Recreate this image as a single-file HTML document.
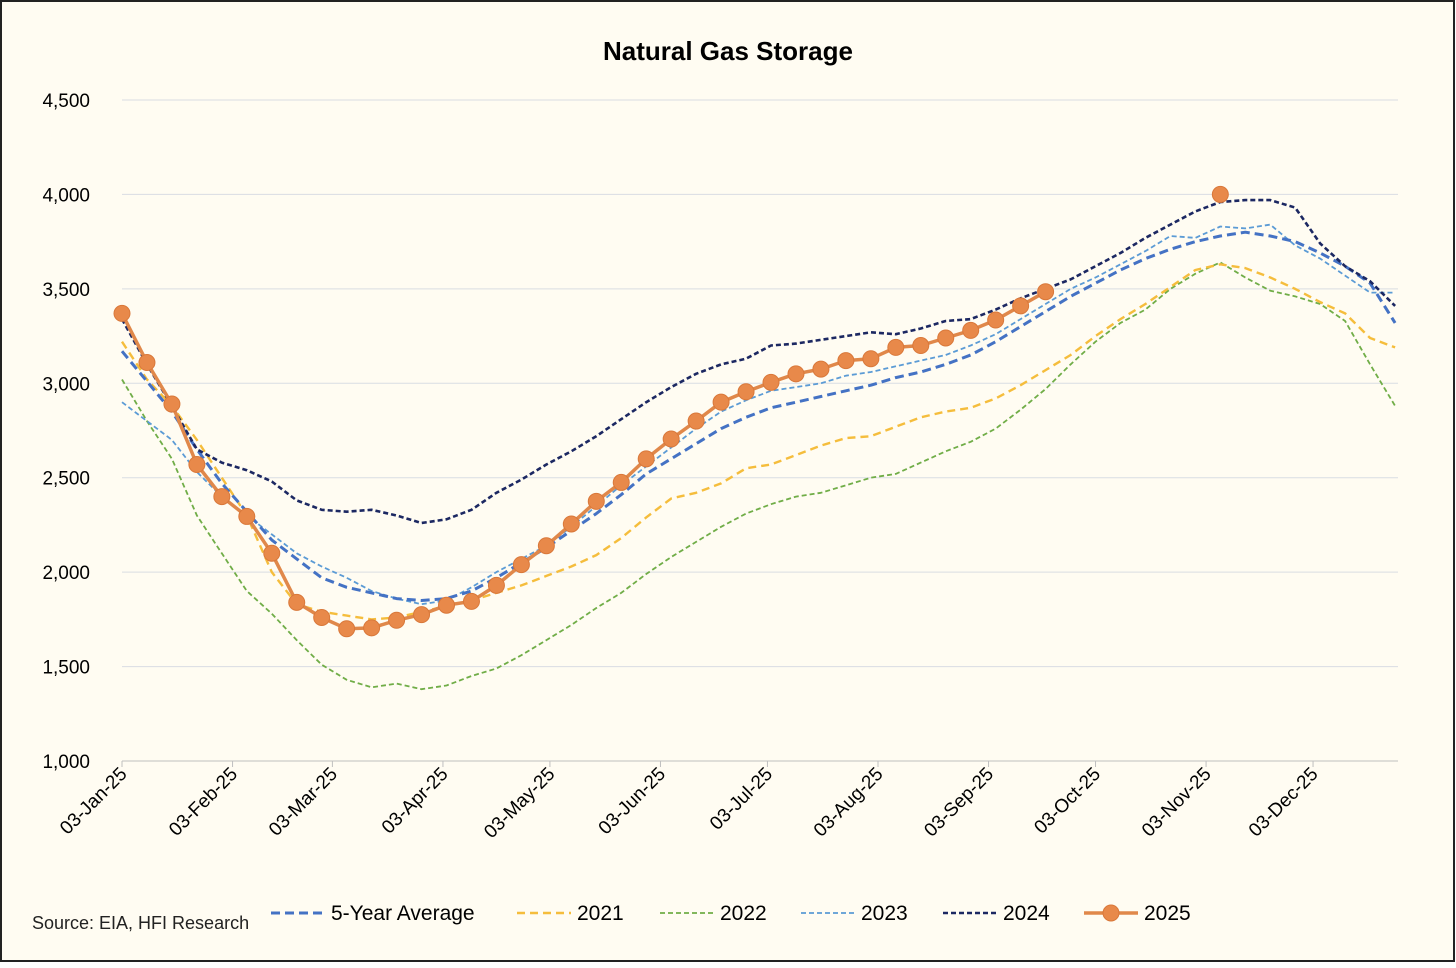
<!DOCTYPE html>
<html><head><meta charset="utf-8">
<style>
body{margin:0;background:#fff;}
#wrap{width:1456px;height:963px;position:relative;}
svg text{font-family:"Liberation Sans",sans-serif;}
</style></head>
<body>
<div id="wrap">
<svg id="chart" width="1456" height="963" viewBox="0 0 1456 963">
<rect x="1" y="1" width="1453" height="960" fill="#fffcf2" stroke="#222" stroke-width="2"/>
<text x="728" y="60" text-anchor="middle" font-size="26" font-weight="bold" fill="#000">Natural Gas Storage</text>
<g id="grid"></g>
<g id="yticks"></g>
<g id="xticks"></g>
<g id="series"></g>
<text x="32" y="929" font-size="18" fill="#222">Source: EIA, HFI Research</text>
<g id="legend"></g>
</svg>
</div>
<script>
const yTicks=[1000,1500,2000,2500,3000,3500,4000,4500];
const xLabels=["03-Jan-25","03-Feb-25","03-Mar-25","03-Apr-25","03-May-25","03-Jun-25","03-Jul-25","03-Aug-25","03-Sep-25","03-Oct-25","03-Nov-25","03-Dec-25"];
const xLabelDays=[0,31,59,90,120,151,181,212,243,273,304,334];
const avg5=[3170,3010,2850,2650,2470,2320,2170,2070,1970,1920,1890,1860,1850,1860,1900,1970,2050,2130,2220,2310,2410,2520,2600,2680,2760,2820,2870,2900,2930,2960,2990,3030,3060,3100,3150,3220,3300,3380,3460,3530,3600,3660,3710,3750,3780,3800,3780,3750,3690,3620,3530,3320];
const y2021=[3220,3020,2880,2700,2500,2300,2000,1830,1790,1770,1750,1760,1790,1820,1850,1890,1930,1980,2030,2090,2180,2290,2390,2420,2470,2550,2570,2620,2670,2710,2720,2770,2820,2850,2870,2920,2990,3070,3150,3250,3340,3420,3510,3600,3630,3610,3560,3500,3430,3370,3240,3190];
const y2022=[3020,2800,2600,2300,2100,1900,1780,1640,1510,1430,1390,1410,1380,1400,1450,1490,1560,1640,1720,1810,1890,1990,2080,2160,2240,2310,2360,2400,2420,2460,2500,2520,2580,2640,2690,2760,2860,2970,3100,3220,3320,3390,3500,3580,3640,3560,3490,3460,3420,3330,3100,2880];
const y2023=[2900,2800,2700,2530,2400,2300,2200,2100,2030,1970,1900,1860,1830,1850,1920,2000,2070,2140,2240,2350,2460,2560,2660,2760,2850,2910,2960,2980,3000,3040,3060,3090,3120,3150,3200,3260,3340,3420,3500,3560,3630,3700,3780,3770,3830,3820,3840,3730,3660,3570,3480,3480];
const y2024=[3340,3100,2880,2650,2580,2540,2480,2380,2330,2320,2330,2300,2260,2280,2330,2420,2490,2570,2640,2720,2810,2900,2980,3050,3100,3130,3200,3210,3230,3250,3270,3260,3290,3330,3340,3390,3450,3500,3550,3620,3690,3770,3840,3910,3960,3970,3970,3930,3740,3620,3540,3410];
const y2025=[3370,3110,2890,2570,2400,2295,2100,1840,1760,1700,1705,1745,1775,1825,1845,1930,2040,2140,2255,2375,2475,2600,2705,2800,2900,2955,3005,3050,3075,3120,3130,3190,3200,3240,3280,3335,3410,3485];
const y2025ProjWeek=[44];
const y2025ProjVal=[4000];

const NS="http://www.w3.org/2000/svg";
const X0=122,PXDAY=3.566,Y0=761,Y1=100,VMIN=1000,VMAX=4500,XEND=1398;
function xDay(d){return X0+d*PXDAY;}
function xWeek(i){return xDay(i*7);}
function yVal(v){return Y0-(v-VMIN)/(VMAX-VMIN)*(Y0-Y1);}
function mk(tag,attrs,parent){const e=document.createElementNS(NS,tag);for(const k in attrs)e.setAttribute(k,attrs[k]);parent.appendChild(e);return e;}
const grid=document.getElementById('grid'),yt=document.getElementById('yticks'),xt=document.getElementById('xticks'),ser=document.getElementById('series'),leg=document.getElementById('legend');

yTicks.forEach(v=>{
  const y=yVal(v);
  const l=mk('line',{x1:X0,x2:XEND,y1:y,y2:y,stroke:v===VMIN?'#bfbfbf':'#d9dde3','stroke-width':1},grid);
  
  
  const t=mk('text',{x:90,y:y+7,'text-anchor':'end','font-size':19,fill:'#000'},yt);
  t.textContent=v.toLocaleString('en-US');
  
  
});
xLabels.forEach((lab,i)=>{
  const x=xDay(xLabelDays[i]);
  const tk=mk('line',{x1:x,x2:x,y1:Y0,y2:Y0+6,stroke:'#bfbfbf'},xt);
  
  
  const t=mk('text',{x:x+6,y:Y0+14,'text-anchor':'end','font-size':19,fill:'#000',transform:`rotate(-45 ${x+6} ${Y0+14})`},xt);
  t.textContent=lab;
  
  
});
function line(vals,color,w,dash,name){
  const d=vals.map((v,i)=>(i?'L':'M')+xWeek(i).toFixed(1)+','+yVal(v).toFixed(1)).join('');
  const p=mk('path',{d:d,fill:'none',stroke:color,'stroke-width':w,'stroke-dasharray':dash,'stroke-linejoin':'round'},ser);
  
  
}
line(y2022,'#70ad47',1.8,'5 3','line-2022');
line(y2021,'#f5bd3c',2.4,'8 5','line-2021');
line(y2023,'#5b9bd5',1.8,'5 3','line-2023');
line(avg5,'#4472c4',3,'9 5','line-5-year-average');
line(y2024,'#1c2862',2.6,'5 3','line-2024');
line(y2025,'#e0884a',3.5,'','line-2025');
y2025.forEach((v,i)=>{
  const c=mk('circle',{cx:xWeek(i),cy:yVal(v),r:8,fill:'#e8894a',stroke:'#d9783a','stroke-width':1},ser);
  
  
});
y2025ProjWeek.forEach((w,i)=>{
  const c=mk('circle',{cx:xWeek(w),cy:yVal(y2025ProjVal[i]),r:8,fill:'#e8894a',stroke:'#d9783a','stroke-width':1},ser);
  
  
});
const legItems=[["5-Year Average",'#4472c4',3,'9 5',271,false],["2021",'#f5bd3c',2.4,'8 5',517,false],["2022",'#70ad47',1.8,'5 3',660,false],["2023",'#5b9bd5',1.8,'5 3',801,false],["2024",'#1c2862',2.6,'5 3',943,false],["2025",'#e0884a',3.5,'',1084,true]];
legItems.forEach(it=>{
  const g=mk('g',{},leg);
  
  
  mk('line',{x1:it[4],x2:it[4]+54,y1:913,y2:913,stroke:it[1],'stroke-width':it[2],'stroke-dasharray':it[3]},g);
  if(it[5])mk('circle',{cx:it[4]+27,cy:913,r:8,fill:'#e8894a',stroke:'#d9783a'},g);
  const t=mk('text',{x:it[4]+60,y:920,'font-size':21,fill:'#000'},g);
  t.textContent=it[0];
});
</script>
</body></html>
